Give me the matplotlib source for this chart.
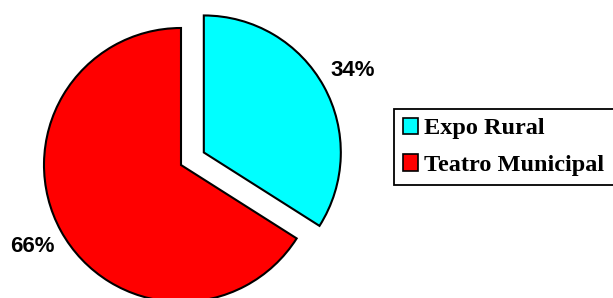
import matplotlib
matplotlib.use("Agg")
import matplotlib.pyplot as plt

categories = ["Expo Rural", "Teatro Municipal"]
values = [34, 66]
colors = ["#00FFFF", "#FF0000"]

W, H = 613, 298
fig = plt.figure(figsize=(W / 100, H / 100), dpi=100)
ax = fig.add_axes([0, 0, 1, 1])

radius = 137
center = (181, H - 165)
explode = [0.19 * radius, 0]

wedges, texts, autotexts = ax.pie(
    values, colors=colors, startangle=90, counterclock=False,
    radius=radius, center=center, explode=explode,
    autopct='%1.0f%%', pctdistance=1.24,
    wedgeprops=dict(edgecolor="black", linewidth=1.5),
    textprops=dict(family="Liberation Sans", weight="bold", fontsize=16, color="black"),
)
for w in wedges:
    w.set_clip_on(True)

ax.set_xlim(0, W)
ax.set_ylim(0, H)
ax.set_aspect("auto")
ax.axis("off")

leg = ax.legend(
    wedges, categories, loc="upper left",
    bbox_to_anchor=(394 / W, 1 - 184 / H, 240 / W, 75 / H), bbox_transform=ax.transAxes,
    mode="expand",
    prop=dict(family="Liberation Serif", weight="bold", size=17.5),
    frameon=True, fancybox=False, shadow=False, framealpha=1,
    edgecolor="black", borderpad=0.36, borderaxespad=0,
    handlelength=0.62, handleheight=0.65, handletextpad=0.25,
    labelspacing=0.62,
)
leg.get_frame().set_linewidth(1.3)
for h in leg.legend_handles:
    h.set_linewidth(1.2)

fig.savefig("out.png", dpi=100)
